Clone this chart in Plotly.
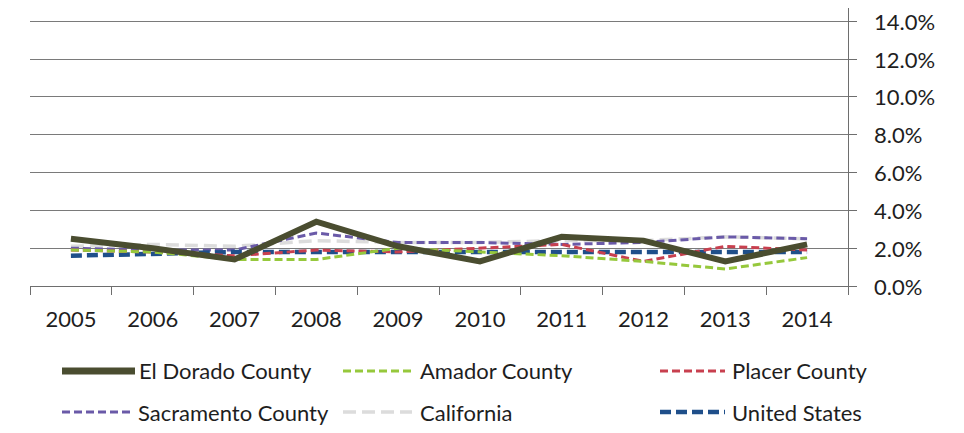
import plotly.graph_objects as go

years = ["2005", "2006", "2007", "2008", "2009", "2010", "2011", "2012", "2013", "2014"]
el_dorado = [2.5, 2.0, 1.4, 3.4, 2.1, 1.3, 2.6, 2.4, 1.3, 2.2]
amador = [1.9, 1.8, 1.4, 1.4, 2.0, 1.8, 1.6, 1.3, 0.9, 1.5]
placer = [1.9, 1.8, 1.6, 1.9, 1.8, 2.0, 2.2, 1.3, 2.1, 1.9]
sacramento = [2.0, 1.9, 1.9, 2.8, 2.3, 2.3, 2.2, 2.3, 2.6, 2.5]
california = [2.1, 2.2, 2.1, 2.4, 2.3, 2.3, 2.4, 2.4, 2.6, 2.5]
united_states = [1.6, 1.7, 1.8, 1.8, 1.8, 1.8, 1.8, 1.8, 1.8, 1.8]
y_ticks = [0, 2, 4, 6, 8, 10, 12, 14]
y_tick_labels = ["0.0%", "2.0%", "4.0%", "6.0%", "8.0%", "10.0%", "12.0%", "14.0%"]

names = ["El Dorado County", "Amador County", "Placer County",
         "Sacramento County", "California", "United States"]
values = [el_dorado, amador, placer, sacramento, california, united_states]
styles = [
    dict(color="#4a4d30", width=6, dash="solid"),
    dict(color="#96c83c", width=3, dash="8px,4px"),
    dict(color="#c8404f", width=3, dash="8px,4px"),
    dict(color="#6a5aa8", width=3, dash="8px,4px"),
    dict(color="#dcdcdc", width=3.5, dash="13px,6px"),
    dict(color="#1f4f8a", width=4.5, dash="11px,5px"),
]
order = [4, 3, 5, 2, 1, 0]

W, H = 964, 433
OFF = 8  # page body margin
L, R, T, B = 30, 848, 8, 286  # plot area in page pixels

fig = go.Figure()
for i in order:
    fig.add_trace(go.Scatter(x=years, y=values[i], name=names[i], mode="lines",
                             line=styles[i], showlegend=False))

def px(x):
    return (x - L) / (R - L)

def py(y):
    return (B - y) / (B - T)

font = "Lato, Open Sans, sans-serif"
txt_color = "#1e1e1e"

# y tick labels, left-aligned to the right of the axis
for v, lab in zip(y_ticks, y_tick_labels):
    fig.add_annotation(xref="paper", yref="y", x=px(872), y=v, text=lab,
                       showarrow=False, xanchor="left", yanchor="middle",
                       font=dict(family=font, size=22, color=txt_color))

leg = [(62, 135, 137, 371), (343, 412, 418, 371), (660, 725, 730, 371),
       (62, 132, 136, 412), (343, 412, 418, 412), (660, 725, 730, 412)]
for i, (x0, x1, xt, yy) in enumerate(leg):
    st = styles[i]
    fig.add_shape(type="line", xref="paper", yref="paper",
                  x0=px(x0), x1=px(x1), y0=py(yy), y1=py(yy),
                  line=dict(color=st["color"], width=st["width"] + (1 if i == 0 else 0),
                            dash=st["dash"]))
    fig.add_annotation(xref="paper", yref="paper", x=px(xt), y=py(yy),
                       text=names[i], showarrow=False, xanchor="left", yanchor="middle",
                       font=dict(family=font, size=22, color=txt_color))

fig.update_layout(
    width=W - OFF, height=H - OFF,
    margin=dict(l=L - OFF, r=W - R, t=T - OFF, b=H - B, pad=0),
    paper_bgcolor="white", plot_bgcolor="white",
    font=dict(family=font, size=22, color=txt_color),
    showlegend=False,
)
fig.update_xaxes(type="category", showgrid=False, showline=True, linecolor="#6e6e6e",
                 linewidth=1, ticks="outside", tickson="boundaries", ticklen=8,
                 tickcolor="#6e6e6e", tickfont=dict(size=22), range=[-0.5, 9.5],
                 ticklabelstandoff=14)
fig.update_yaxes(side="right", range=[0, 14.7], tickvals=y_ticks, showticklabels=False,
                 showgrid=True, gridcolor="#7a7a7a",
                 gridwidth=1, showline=True, linecolor="#6e6e6e", linewidth=1,
                 ticks="outside", ticklen=8, tickcolor="#6e6e6e", zeroline=False)

fig.write_html("out.html")
